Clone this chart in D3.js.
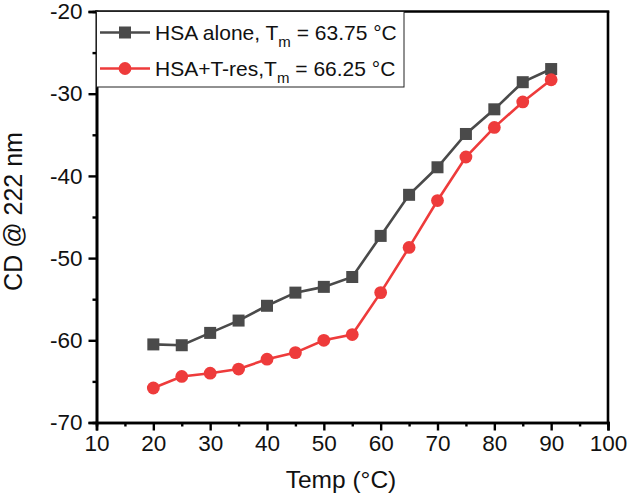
<!DOCTYPE html>
<html><head><meta charset="utf-8">
<script src="https://cdn.jsdelivr.net/npm/d3@7"></script>
<style>body{margin:0;background:#fff}svg{display:block}text{font-family:"Liberation Sans",Arial,sans-serif;fill:#111}</style>
</head><body><svg id="c" width="629" height="502"></svg>
<script>
const temps = [20,25,30,35,40,45,50,55,60,65,70,75,80,85,90];
const hsaAlone = [-60.5,-60.6,-59.1,-57.6,-55.8,-54.2,-53.5,-52.3,-47.3,-42.3,-38.95,-34.9,-31.9,-28.6,-27.0];
const hsaTres = [-65.8,-64.4,-64.0,-63.5,-62.3,-61.5,-60.0,-59.3,-54.2,-48.7,-43.0,-37.7,-34.1,-31.0,-28.3];
const xTicks = [10,20,30,40,50,60,70,80,90,100];
const yTicks = [-70,-60,-50,-40,-30,-20];
const seriesNames = ["HSA alone, T", "HSA+T-res,T"];
const seriesTail = [" = 63.75 °C", " = 66.25 °C"];

const svg = d3.select("#c");
const L = 96.5, R = 608, T = 11.5, B = 422.5;
const x = d3.scaleLinear().domain([10,100]).range([L,R]);
const y = d3.scaleLinear().domain([-70,-20]).range([B,T]);
const fmt = d => String(d);

const xAxis = d3.axisBottom(x).tickValues(xTicks).tickSize(8).tickPadding(5).tickFormat(fmt);
const xMinor = d3.axisBottom(x).tickValues(d3.range(15,100,10)).tickSize(4).tickFormat("");
const yAxis = d3.axisLeft(y).tickValues(yTicks).tickSize(8).tickPadding(6).tickFormat(fmt);
const yMinor = d3.axisLeft(y).tickValues(d3.range(-65,-20,10)).tickSize(4).tickFormat("");

function style(g){
  g.selectAll("path.domain").attr("stroke","#000").attr("stroke-width",2.6);
  g.selectAll("line").attr("stroke","#000").attr("stroke-width",2.4);
  g.selectAll("text").style("font-size","22.5px").attr("fill","#111");
}
svg.append("g").attr("transform",`translate(0,${B})`).call(xMinor).call(style);
svg.append("g").attr("transform",`translate(0,${B})`).call(xAxis).call(style);
svg.append("g").attr("transform",`translate(${L},0)`).call(yMinor).call(style);
svg.append("g").attr("transform",`translate(${L},0)`).call(yAxis).call(style);
svg.append("line").attr("x1",L-1.3).attr("x2",R+1.3).attr("y1",T).attr("y2",T).attr("stroke","#000").attr("stroke-width",2.6);
svg.append("line").attr("x1",R).attr("x2",R).attr("y1",T).attr("y2",B).attr("stroke","#000").attr("stroke-width",2.6);

svg.append("text").attr("x",341).attr("y",488).attr("text-anchor","middle").style("font-size","24.5px").text("Temp (°C)");
svg.append("text").attr("transform",`translate(22,211.5) rotate(-90)`).attr("text-anchor","middle").style("font-size","25px").text("CD @ 222 nm");

const colors = ["#4a4a4a","#ee3b3b"];
const line = d3.line().x((d,i)=>x(temps[i])).y(d=>y(d));
[hsaAlone, hsaTres].forEach((vals,k)=>{
  svg.append("path").datum(vals).attr("d",line).attr("fill","none").attr("stroke",colors[k]).attr("stroke-width",2.6);
});
const sq = 12;
svg.append("g").selectAll("rect").data(hsaAlone).join("rect")
  .attr("x",(d,i)=>x(temps[i])-sq/2).attr("y",d=>y(d)-sq/2).attr("width",sq).attr("height",sq).attr("fill",colors[0]);
svg.append("g").selectAll("circle").data(hsaTres).join("circle")
  .attr("cx",(d,i)=>x(temps[i])).attr("cy",d=>y(d)).attr("r",6.4).attr("fill",colors[1]);

const lg = svg.append("g");
lg.append("rect").attr("x",L).attr("y",T).attr("width",404-L).attr("height",87-T).attr("fill","#fff").attr("stroke","#222").attr("stroke-width",1);
[32.5, 68.5].forEach((ry,k)=>{
  lg.append("line").attr("x1",100).attr("x2",150).attr("y1",ry).attr("y2",ry).attr("stroke",colors[k]).attr("stroke-width",2.6);
  if(k===0) lg.append("rect").attr("x",125-sq/2).attr("y",ry-sq/2).attr("width",sq).attr("height",sq).attr("fill",colors[0]);
  else lg.append("circle").attr("cx",125).attr("cy",ry).attr("r",6.4).attr("fill",colors[1]);
  const t = lg.append("text").attr("x",155).attr("y",ry+7.5).style("font-size","21px");
  t.append("tspan").text(seriesNames[k]);
  t.append("tspan").attr("dy",7).style("font-size","15px").text("m");
  t.append("tspan").attr("dy",-7).text(seriesTail[k]);
});
</script></body></html>
